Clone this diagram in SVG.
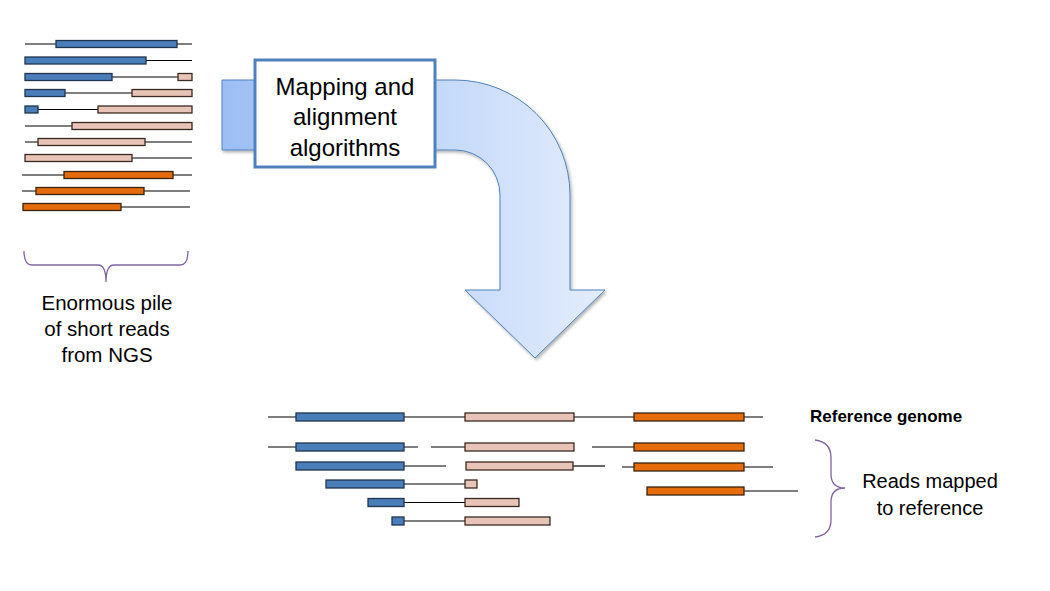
<svg xmlns="http://www.w3.org/2000/svg" width="1050" height="591" viewBox="0 0 1050 591">
<style>
.ln{stroke:#000;stroke-width:1.2;fill:none}
.b{fill:#4a7ebb;stroke:#1f344d;stroke-width:1.3}
.p{fill:#e8c4b6;stroke:#3a2a24;stroke-width:1.3}
.o{fill:#e46c0a;stroke:#3a2410;stroke-width:1.3}
.br{fill:none;stroke:#8064a2;stroke-width:1.3}
.t{font-family:"Liberation Sans",Arial,sans-serif;fill:#000;text-anchor:middle}
</style>
<defs>
<linearGradient id="ag" gradientUnits="userSpaceOnUse" x1="222" y1="0" x2="605" y2="0">
<stop offset="0" stop-color="#9cbef4"/>
<stop offset="1" stop-color="#e3edfd"/>
</linearGradient>
<filter id="sh" x="-10%" y="-10%" width="130%" height="130%">
<feDropShadow dx="1.5" dy="2" stdDeviation="1.5" flood-color="#000" flood-opacity="0.3"/>
</filter>
</defs>

<g id="arrow">
<path d="M222,80 H455 A115,115 0 0 1 570,195 V290 H605 L535,358 L465,290 H500 V195 A45,45 0 0 0 455,150 H222 Z" fill="url(#ag)" stroke="#4f81bd" stroke-width="1" filter="url(#sh)"/>
</g>

<g id="box">
<rect x="255" y="60" width="180" height="107" fill="#fff" stroke="#4f81bd" stroke-width="3"/>
<text class="t" x="345" y="95" font-size="24">Mapping and</text>
<text class="t" x="345" y="125" font-size="24">alignment</text>
<text class="t" x="345" y="156" font-size="24">algorithms</text>
</g>

<g id="reads-top">
<line class="ln" x1="25" y1="44" x2="192" y2="44"/>
<rect class="b" x="56" y="40.5" width="121" height="7"/>
<line class="ln" x1="25" y1="60.5" x2="192" y2="60.5"/>
<rect class="b" x="25" y="57" width="121" height="7"/>
<line class="ln" x1="25" y1="77" x2="192" y2="77"/>
<rect class="b" x="25" y="73.5" width="87" height="7"/>
<rect class="p" x="178" y="73.5" width="14" height="7"/>
<line class="ln" x1="25" y1="93" x2="192" y2="93"/>
<rect class="b" x="25" y="89.5" width="40" height="7"/>
<rect class="p" x="132" y="89.5" width="60" height="7"/>
<line class="ln" x1="25" y1="109.5" x2="192" y2="109.5"/>
<rect class="b" x="25" y="106" width="13" height="7"/>
<rect class="p" x="98" y="106" width="94" height="7"/>
<line class="ln" x1="25" y1="126" x2="192" y2="126"/>
<rect class="p" x="72" y="122.5" width="120" height="7"/>
<line class="ln" x1="25" y1="142" x2="192" y2="142"/>
<rect class="p" x="38" y="138.5" width="107" height="7"/>
<line class="ln" x1="25" y1="158" x2="192" y2="158"/>
<rect class="p" x="25" y="154.5" width="107" height="7"/>
<line class="ln" x1="22" y1="175" x2="192" y2="175"/>
<rect class="o" x="64" y="171.5" width="109" height="7"/>
<line class="ln" x1="22" y1="191" x2="190" y2="191"/>
<rect class="o" x="36" y="187.5" width="108" height="7"/>
<line class="ln" x1="23" y1="207" x2="190" y2="207"/>
<rect class="o" x="23" y="203.5" width="98" height="7"/>
</g>

<g id="brace-left">
<path class="br" d="M24,251 Q24,265 32,265 H98 Q106,265 106,282 Q106,265 114,265 H180 Q188,265 188,251"/>
</g>
<g id="label-left">
<text class="t" x="107" y="310" font-size="20.5">Enormous pile</text>
<text class="t" x="107" y="336" font-size="20.5">of short reads</text>
<text class="t" x="107" y="362" font-size="20.5">from NGS</text>
</g>

<g id="reference">
<line class="ln" x1="268" y1="417" x2="763" y2="417"/>
<rect class="b" x="296" y="413" width="108" height="8"/>
<rect class="p" x="465" y="413" width="109" height="8"/>
<rect class="o" x="634" y="413" width="110" height="8"/>
</g>

<g id="reads-mapped">
<line class="ln" x1="268" y1="447" x2="418" y2="447"/>
<line class="ln" x1="431" y1="447" x2="465" y2="447"/>
<line class="ln" x1="592" y1="447" x2="634" y2="447"/>
<rect class="b" x="296" y="443" width="108" height="8"/>
<rect class="p" x="465" y="443" width="109" height="8"/>
<rect class="o" x="634" y="443" width="110" height="8"/>

<line class="ln" x1="404" y1="466" x2="446" y2="466"/>
<line class="ln" x1="573" y1="466" x2="605" y2="466"/>
<line class="ln" x1="622" y1="467" x2="773" y2="467"/>
<rect class="b" x="296" y="462" width="108" height="8"/>
<rect class="p" x="466" y="462" width="107" height="8"/>
<rect class="o" x="634" y="463" width="110" height="8"/>

<line class="ln" x1="404" y1="484" x2="465" y2="484"/>
<rect class="b" x="326" y="480" width="78" height="8"/>
<rect class="p" x="465" y="480" width="12" height="8"/>

<line class="ln" x1="744" y1="491" x2="798" y2="491"/>
<rect class="o" x="647" y="487" width="97" height="8"/>

<line class="ln" x1="404" y1="502.5" x2="465" y2="502.5"/>
<rect class="b" x="368" y="498.5" width="36" height="8"/>
<rect class="p" x="465" y="498.5" width="54" height="8"/>

<line class="ln" x1="404" y1="521" x2="465" y2="521"/>
<rect class="b" x="392" y="517" width="12" height="8"/>
<rect class="p" x="465" y="517" width="85" height="8"/>
</g>

<g id="label-reference">
<text x="810" y="422" font-family="Liberation Sans, Arial, sans-serif" font-size="17" font-weight="bold" fill="#000">Reference genome</text>
</g>

<g id="brace-right">
<path class="br" d="M815,440 Q831,442 831,458 V474 Q831,488 845,488 Q831,488 831,502 V520 Q831,535 815,537"/>
</g>
<g id="label-right">
<text class="t" x="930" y="488" font-size="20">Reads mapped</text>
<text class="t" x="930" y="515" font-size="20">to reference</text>
</g>
</svg>
